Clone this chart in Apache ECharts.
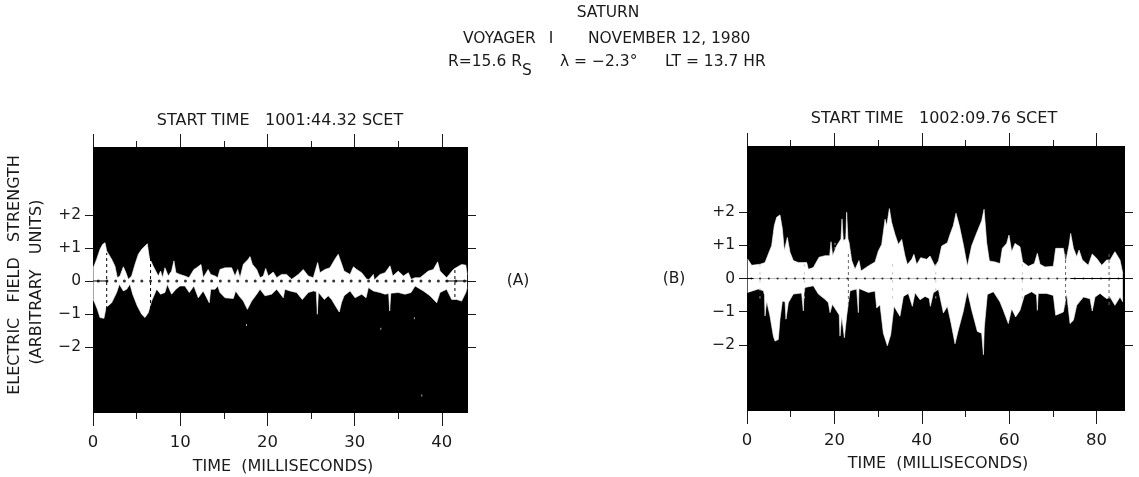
<!DOCTYPE html>
<html><head><meta charset="utf-8">
<style>html,body{margin:0;padding:0;background:#fff}#c{width:1139px;height:477px}</style>
<script src="https://cdn.jsdelivr.net/npm/echarts@6/dist/echarts.min.js"></script>
</head><body><div id="c"></div>
<script>
// Panel A: [time ms, field strength]
var upperA=[[.04,.4],[.42,.66],[.8,.96],[1.11,1.11],[1.38,1.16],[1.57,.91],[1.76,.96],[2.14,.66],[2.52,.45],[2.79,.1],[3.09,.15],[3.48,.43],[3.78,.25],[4.05,.05],[4.43,.15],[4.81,.5],[5.2,.81],[5.58,.96],[6.23,1.13],[6.46,.71],[6.91,.45],[7.49,.15],[7.75,.3],[7.98,.1],[8.25,.4],[8.63,.15],[9.01,.3],[9.28,.61],[9.51,.25],[9.97,.2],[10.54,.15],[11,.1],[11.57,.35],[11.88,.4],[12.38,.5],[12.64,.1],[13.2,.35],[13.5,.2],[14,.15],[14.3,.1],[14.56,.35],[15.14,.4],[15.9,.4],[16.28,.15],[16.59,.35],[16.86,.1],[17.24,.51],[17.81,.66],[18,.74],[18.27,.51],[18.77,.35],[19.15,.1],[19.53,.15],[19.8,.38],[20.1,.15],[20.67,.27],[21.06,.1],[21.63,.2],[22.2,.2],[22.78,.05],[23.54,.2],[24.11,.35],[24.69,.15],[25.26,.1],[25.76,.56],[26.02,.25],[26.6,.35],[27.17,.4],[27.74,.66],[28.12,.81],[28.4,.6],[28.79,.3],[29.48,.2],[29.86,.43],[30.24,.35],[30.81,.25],[31.39,.05],[31.69,.05],[32.15,.2],[32.26,.03],[32.91,.2],[33.49,.25],[34.06,.46],[34.37,.15],[35,.3],[35.59,.15],[36.16,.25],[36.47,.05],[36.93,.1],[37.5,.1],[38.45,.3],[39.03,.35],[39.52,.58],[39.79,.3],[40.55,.1],[41.32,.35],[41.62,.4],[42.27,.5],[42.75,.48],[42.9,.2]];
var lowerA=[[.04,-.56],[.5,-.86],[.8,-1.11],[1.26,-1.13],[1.49,-.81],[2.14,-.66],[2.71,-.35],[3.02,-.1],[3.48,-.3],[3.86,-.25],[4.24,-.1],[4.55,-.4],[5.08,-.76],[5.58,-1.01],[5.96,-1.11],[6.34,-.96],[6.72,-.61],[7.3,-.25],[7.75,-.4],[8.25,-.35],[8.52,-.1],[9.01,-.4],[9.51,-.25],[9.97,-.15],[10.54,-.15],[11.04,-.35],[11.57,-.15],[12.07,-.51],[12.64,-.3],[13.33,-.66],[13.5,-.25],[14,-.25],[14.3,-.15],[14.56,-.35],[15.14,-.51],[16.09,-.53],[16.36,-.3],[16.74,-.45],[17.24,-.61],[17.7,-.86],[18.19,-.61],[18.77,-.4],[19.15,-.25],[19.72,-.45],[20.48,-.4],[21.06,-.25],[21.82,-.51],[22,-.25],[22.58,-.3],[23.35,-.35],[24,-.56],[24.69,-.35],[25.26,-.3],[25.6,-.32],[25.72,-1.01],[25.85,-.34],[26.02,-.35],[26.52,-.56],[26.98,-.45],[27.36,-.56],[27.93,-.81],[28.24,-.94],[28.5,-.65],[28.79,-.45],[29.48,-.3],[30.05,-.51],[30.81,-.4],[31.31,-.51],[31.58,-.2],[32.15,-.3],[32.91,-.35],[33.49,-.4],[33.9,-.38],[34.02,-.91],[34.15,-.37],[34.25,-.35],[35,-.35],[35.78,-.4],[36.47,-.35],[36.93,-.15],[37.88,-.3],[38.64,-.45],[39.41,-.66],[39.79,-.35],[40.55,-.25],[41.13,-.56],[41.7,-.56],[42.27,-.61],[42.75,-.35],[42.9,-.2]];
// Panel B
var upperB=[[.15,.59],[1.07,.4],[2.97,.43],[4.12,.48],[4.88,.74],[5.64,.99],[6.25,1.6],[6.79,1.85],[7.55,1.92],[8.09,1.5],[8.54,.84],[9.23,1.24],[9.84,.79],[10.6,.54],[11.75,.48],[13.66,.48],[14.04,.28],[15.18,.33],[16.48,.64],[17.85,.69],[18.92,.69],[19.22,1.11],[19.6,.69],[20.52,.99],[21.5,1.19],[21.74,1.8],[22.05,1.14],[22.6,1.2],[22.81,2],[23.1,1.2],[23.35,1.09],[23.96,.54],[24.72,.28],[25.63,.54],[26.09,.23],[27.77,.38],[29.3,.5],[30.06,.83],[30.82,1.03],[31.6,1.79],[31.97,1.59],[32.58,2.11],[33.1,1.69],[33.87,1.33],[34.64,1.03],[35.4,1.18],[36.16,.68],[36.7,.42],[37.7,.58],[38.2,.73],[38.83,.42],[39.75,.63],[41.12,.58],[41.88,.68],[43.03,.37],[43.8,.53],[44.55,.98],[45.85,1.08],[46.46,1.33],[47.2,1.59],[47.83,1.97],[48.6,1.59],[49.5,1.03],[50.43,.37],[51.4,.98],[52.57,1.38],[53.7,1.74],[54.25,2.09],[54.85,1.08],[55.47,.53],[56.75,.5],[57.9,.45],[58.43,.91],[59.42,1.06],[59.95,1.31],[60.57,.81],[61.33,1.06],[62.47,.96],[63.08,.5],[64.38,.37],[65.75,.45],[66.44,.76],[67.05,.43],[68.2,.35],[70.1,.37],[70.64,.91],[72.4,.91],[72.93,.5],[73.7,1.01],[74.07,1.36],[74.7,.91],[75.45,.66],[75.98,.86],[76.74,.56],[78.1,.4],[79,.74],[80,.61],[81.17,.4],[82.3,.56],[83.07,.56],[84.2,.81],[85.36,.56],[86,.15]];
var lowerB=[[.15,-.42],[2.59,-.32],[3.74,-.37],[4,-.5],[4.12,-1.13],[4.5,-.68],[5.26,-1.13],[6.03,-1.74],[6.41,-1.89],[7.17,-1.84],[7.55,-1.23],[8.09,-.68],[8.7,-.7],[8.92,-1.23],[9.46,-.73],[10.6,-.47],[12.5,-.44],[12.75,-.5],[12.89,-.98],[13.05,-.45],[13.27,-.27],[15.18,-.22],[16.33,-.47],[17.85,-.63],[18.62,-.73],[19,-1.03],[19.53,-.78],[20.52,-.98],[21.1,-1.1],[21.28,-1.74],[21.67,-1.13],[22.1,-1.1],[22.28,-1.79],[22.81,-1.13],[23.58,-.37],[25.1,-.32],[25.35,-.35],[25.48,-1.03],[25.62,-.3],[25.86,-.27],[27.77,-.42],[29.3,-.38],[29.68,-.89],[30.44,-.79],[31.2,-1.65],[32.12,-2.03],[32.88,-1.7],[33.64,-.84],[35,-1.14],[35.78,-.54],[36.92,-.45],[37.84,-.84],[38.45,-.43],[39.6,-.64],[40.74,-.54],[41.7,-.6],[41.96,-.84],[42.65,-.43],[43.8,-.33],[44.94,-1.04],[45.85,-.84],[46.69,-1.34],[47.6,-1.97],[48.37,-1.55],[49.5,-.99],[50.43,-.38],[51.4,-.94],[52.72,-1.6],[53.7,-1.65],[53.95,-1.6],[54.1,-2.3],[54.3,-1.5],[54.47,-1.24],[55,-.48],[56.4,-.4],[57.9,-.71],[58.66,-.96],[59.8,-1.36],[60.57,-.91],[61.48,-1.16],[62.47,-.96],[63.47,-.51],[65.15,-.4],[66.25,-.5],[66.44,-.96],[66.65,-.45],[66.82,-.43],[68.58,-.45],[70.1,-.51],[70.64,-1.11],[72.4,-1.01],[73.15,-.45],[73.92,-1.36],[74.7,-1.26],[75.45,-.81],[76.98,-.56],[78.5,-.61],[79,-.98],[79.64,-.56],[80.8,-.45],[82.3,-.61],[83.07,-.56],[84.2,-.81],[85.36,-.56],[86,-.71]];
var dotTimesA=[.6,1.6,2.6,3.6,4.6,5.6,6.6,7.6,8.6,9.6,10.6,11.6,12.6,13.6,14.6,15.6,16.6,17.6,18.6,19.6,20.6,21.6,22.6,23.6,24.6,25.6,26.6,27.6,28.6,29.6,30.6,31.6,32.6,33.6,34.6,35.6,36.6,37.6,38.6,39.6,40.6,41.6,42.6];
var dotTimesB=[1,3,5,7,9,11,13,15,17,19,21,23,25,27,29,31,33,35,37,39,41,43,45,47,49,51,53,55,57,59,61,63,65,67,69,71,73,75,77,79,81,83,85];
var dashTimesA=[1.57,6.6,41.5];
var dashTimesB=[23.2,72.9,82.85];
var faintDashTimesB=[2.97,13.12,33.3,43.2,63];
var rulesA=[[0,1.7],[40.4,43]];
var rulesB=[[0,1.5],[74,86.5]];
var specksA=[[17.6,-1.33],[33,-1.45],[37.7,-3.47],[36.85,-1.13]];
var specksB=[[20.15,1.05],[20.15,.92]];
var majorA=[0,10,20,30,40], minorA=[5,15,25,35];
var majorB=[0,20,40,60,80], minorB=[10,30,50,70];
var yTicks=[-2,-1,0,1,2];
var yLabels={'-2':'−2','-1':'−1','0':'0','1':'+1','2':'+2'};
var FONT='"DejaVu Sans"', INK='#1a1a1a';

var panels=[
 {left:93,top:147,w:375,h:266,max:43,ymin:-4,ymax:4.06,maj:majorA,min:minorA,up:upperA,lo:lowerA,dots:dotTimesA,dotR:3,dash:dashTimesA,dashH:.85,faint:[],rules:rulesA,specks:specksA},
 {left:747,top:146,w:378,h:265,max:86.5,ymin:-4,ymax:4,maj:majorB,min:minorB,up:upperB,lo:lowerB,dots:dotTimesB,dotR:2.2,dash:dashTimesB,dashH:.8,faint:faintDashTimesB,rules:rulesB,specks:specksB}
];
var grids=[],xAxes=[],yAxes=[],series=[];
panels.forEach(function(p,i){
 var rect={left:p.left,top:p.top,width:p.w,height:p.h,borderWidth:0};
 grids.push(Object.assign({show:true,backgroundColor:'#000'},rect),Object.assign({show:false},rect));
 function xa(g,pos,vals,len,lab){
  return {type:'value',gridIndex:g,min:0,max:p.max,position:pos,splitLine:{show:false},axisLine:{show:false,onZero:false},
   axisTick:{show:true,length:len,customValues:vals,lineStyle:{color:INK,width:1}},
   axisLabel:lab?{show:true,customValues:vals,showMinLabel:true,showMaxLabel:true,color:INK,fontFamily:FONT,fontSize:16.5,margin:21}:{show:false}};
 }
 xAxes.push(xa(i*2,'bottom',p.maj,13,true),xa(i*2,'top',p.maj,13,false),xa(i*2+1,'bottom',p.min,6,false),xa(i*2+1,'top',p.min,6,false));
 function ya(g,pos,lab,ticks){
  return {type:'value',gridIndex:g,position:pos,min:p.ymin,max:p.ymax,splitLine:{show:false},axisLine:{show:false,onZero:false},
   axisTick:ticks?{show:true,length:8,customValues:yTicks,lineStyle:{color:INK,width:1}}:{show:false},
   axisLabel:lab?{show:true,customValues:yTicks,color:INK,fontFamily:FONT,fontSize:15.5,margin:12,formatter:function(v){return yLabels[String(v)];}}:{show:false}};
 }
 yAxes.push(ya(i*2,'left',true,true),ya(i*2,'right',false,true),ya(i*2+1,'left',false,false));
 var xi=i*4, yi=i*3;
 function area(d){return {type:'line',xAxisIndex:xi,yAxisIndex:yi,data:d,showSymbol:false,symbol:'none',sampling:'none',smooth:false,
   lineStyle:{color:'#fff',width:.6},areaStyle:{color:'#fff',opacity:1,origin:0},silent:true,z:2};}
 series.push(area(p.up),area(p.lo));
 series.push({type:'scatter',xAxisIndex:xi,yAxisIndex:yi,data:p.dots.map(function(t){return [t,0];}),symbol:'circle',symbolSize:p.dotR,itemStyle:{color:'#000'},silent:true,z:4});
 series.push({type:'scatter',xAxisIndex:xi,yAxisIndex:yi,data:p.specks,symbol:'rect',symbolSize:[1,2],itemStyle:{color:'#ddd'},silent:true,z:4});
 p.dash.forEach(function(t){
  series.push({type:'line',xAxisIndex:xi,yAxisIndex:yi,data:[[t,-p.dashH],[t,p.dashH]],symbol:'none',lineStyle:{color:i?'#666':'#000',width:1,type:[3,3]},silent:true,z:3});
 });
 p.faint.forEach(function(t){
  series.push({type:'line',xAxisIndex:xi,yAxisIndex:yi,data:[[t,-.6],[t,.6]],symbol:'none',lineStyle:{color:'#bbb',width:1,type:[2,6]},silent:true,z:3});
 });
 p.rules.forEach(function(r){
  series.push({type:'line',xAxisIndex:xi,yAxisIndex:yi,data:[[r[0],0],[r[1],0]],symbol:'none',lineStyle:{color:'#000',width:1},silent:true,z:3});
 });
});
function T(x,y,text,opt){
 opt=opt||{};
 return {type:'text',x:x,y:y,rotation:opt.rot||0,silent:true,style:{text:text,fill:INK,font:(opt.size||15.5)+'px '+FONT,textAlign:opt.align||'center',textVerticalAlign:'middle'}};
}
var L={align:'left'};
var texts=[
 T(608,13,'SATURN'),
 T(463,39,'VOYAGER',L),T(551,39,'I'),T(588,39,'NOVEMBER 12, 1980',L),
 T(448,62,'R=15.6 R',L),T(522,71,'S',L),
 T(560,62,'λ = −2.3°',L),T(665,62,'LT = 13.7 HR',L),
 T(280,121,'START TIME   1001:44.32 SCET',{size:16}),
 T(934,119,'START TIME   1002:09.76 SCET',{size:16}),
 T(283,467,'TIME  (MILLISECONDS)',{size:16}),
 T(938,464,'TIME  (MILLISECONDS)',{size:16}),
 T(15,275,'ELECTRIC   FIELD   STRENGTH',{rot:Math.PI/2,size:16}),
 T(37,282,'(ARBITRARY   UNITS)',{rot:Math.PI/2,size:16}),
 T(518,281,'(A)'),
 T(674,279,'(B)')
];
var chart=echarts.init(document.getElementById('c'),null,{renderer:'canvas'});
chart.setOption({animation:false,backgroundColor:'#fff',grid:grids,xAxis:xAxes,yAxis:yAxes,series:series,graphic:{elements:texts}});
</script></body></html>
